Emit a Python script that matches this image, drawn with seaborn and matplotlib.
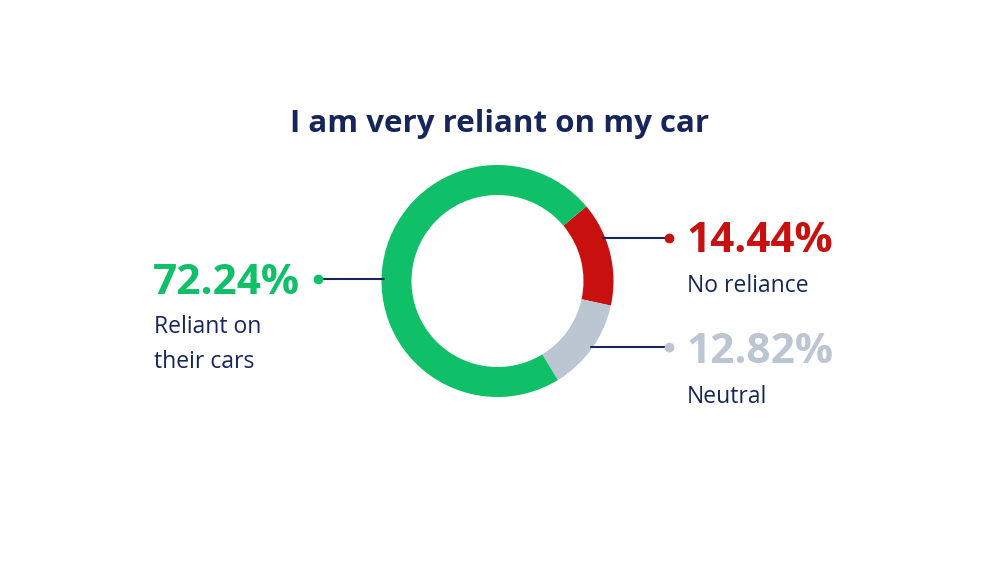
import numpy as np
import matplotlib
matplotlib.use("Agg")
import matplotlib.pyplot as plt
import seaborn as sns

# data
labels = ["No reliance", "Neutral", "Reliant on\ntheir cars"]
shares = [14.44, 12.82, 72.24]
colors = ["#C8100F", "#BCC5D2", "#10C068"]
navy = "#16265A"

sns.set_theme(style="white")
plt.rcParams["font.family"] = ["Open Sans", "DejaVu Sans"]

fig = plt.figure(figsize=(10, 5.63), dpi=100)
ax = fig.add_axes([0, 0, 1, 1])

# donut (pixel space, y down -> counterclock flips visually)
cx, cy, R, ring = 497.5, 281, 116, 30
ax.pie(shares, colors=colors, startangle=-40, counterclock=True,
       center=(cx, cy), radius=R, frame=True,
       wedgeprops=dict(width=ring, linewidth=0))
ax.set_xlim(0, 1000)
ax.set_ylim(563, 0)
ax.set_aspect("equal")
ax.axis("off")

ax.text(500, 132, "I am very reliant on my car", ha="center", va="baseline",
        fontsize=22.5, fontweight="bold", color=navy)

# leader lines and dots
def leader(y, x_dot, color, side):
    dx = np.sqrt(R**2 - (y - cy)**2)
    x_ring = cx - dx + 2 if side == "left" else cx + dx - 2
    ax.plot([x_ring, x_dot], [y, y], color=navy, lw=1.5, zorder=1)
    ax.plot([x_dot], [y], "o", color=color, ms=6, zorder=3)

leader(279, 318, colors[2], "left")
leader(238, 669, colors[0], "right")
leader(347, 669, colors[1], "right")

# labels
ax.text(153, 294, f"{shares[2]:.2f}%", fontsize=30.5, fontweight="bold",
        color=colors[2], va="baseline", ha="left")
ax.text(154, 333, "Reliant on", fontsize=16.5, color=navy, va="baseline")
ax.text(154, 368, "their cars", fontsize=16.5, color=navy, va="baseline")

ax.text(686, 252, f"{shares[0]:.2f}%", fontsize=30.5, fontweight="bold",
        color=colors[0], va="baseline", ha="left")
ax.text(687, 292, labels[0], fontsize=16.5, color=navy, va="baseline")

ax.text(686, 363, f"{shares[1]:.2f}%", fontsize=30.5, fontweight="bold",
        color=colors[1], va="baseline", ha="left")
ax.text(687, 403, labels[1], fontsize=16.5, color=navy, va="baseline")

fig.savefig("out.png", dpi=100, facecolor="white")
